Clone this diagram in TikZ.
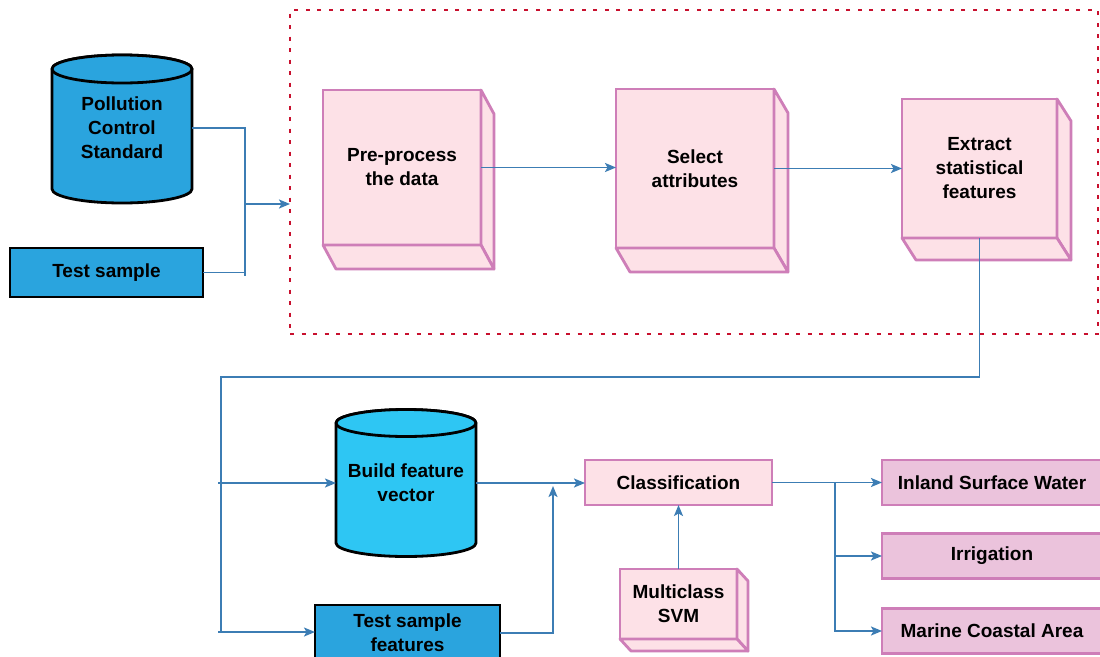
\documentclass[tikz,border=0pt]{standalone}
\usepackage{fontspec}
\setmainfont{Liberation Sans}
\usetikzlibrary{arrows.meta}
\definecolor{blueA}{HTML}{2AA4DE}
\definecolor{cyanA}{HTML}{2EC6F3}
\definecolor{pinkF}{HTML}{FDE1E7}
\definecolor{pinkB}{HTML}{CE7EB8}
\definecolor{outF}{HTML}{EBC3DC}
\definecolor{lineC}{HTML}{3C7DB4}
\definecolor{redD}{HTML}{C8102E}
\tikzset{
  conn/.style={draw=lineC, line width=1.7pt},
  arr/.style={conn, -{Stealth[length=11pt,width=9pt,inset=2.5pt]}},
  txt/.style={font=\fontsize{19}{24}\selectfont\bfseries, align=center, text=black},
  bluebox/.style={txt, rectangle, draw=black, line width=2.8pt, fill=blueA, inner sep=0pt, outer sep=0pt},
  pinkbox/.style={txt, rectangle, draw=pinkB, line width=2.8pt, fill=pinkF, inner sep=0pt, outer sep=0pt},
  face/.style={draw=pinkB, line width=2.8pt, fill=pinkF, line join=round},
  outbox/.style={pinkbox, fill=outF},
  hold/.style={txt, inner sep=0pt, outer sep=0pt, minimum width=140pt},
  cyl/.style={draw=black, line width=2.8pt, line join=round},
  grpbox/.style={draw=redD, line width=2.5pt, dash pattern=on 4pt off 7.5pt, inner sep=0pt, outer sep=0pt}
}
\begin{document}
\begin{tikzpicture}[x=1pt,y=1pt]
\useasboundingbox (0,0) rectangle (1100,-656);
\clip (0,0) rectangle (1100,-656);
\fill[white] (0,0) rectangle (1100,-656);

% dotted group
\node[grpbox, minimum width=808pt, minimum height=324pt] (grp) at (694,-172) {};

% cylinder 1
\filldraw[cyl, fill=blueA] (52,-69) -- (52,-189) arc[start angle=180, end angle=360, x radius=70pt, y radius=14pt] -- (192,-69) arc[start angle=0, end angle=180, x radius=70pt, y radius=14pt] -- cycle;
\filldraw[cyl, fill=blueA] (122,-69) ellipse[x radius=70pt, y radius=14pt];
\node[hold, minimum height=110pt] (pcs) at (122,-128) {Pollution\\Control\\Standard};

% test sample
\node[bluebox, minimum width=193pt, minimum height=49pt] (ts) at (106.5,-272.5) {Test sample};

% 3D boxes
\node[pinkbox, minimum width=158pt, minimum height=155pt] (pre) at (402,-167.5) {Pre-process\\the data};
\filldraw[face] (pre.north east) -- ++(13,-24) -- ([shift={(13,-24)}]pre.south east) -- (pre.south east) -- cycle;
\filldraw[face] (pre.south west) -- (pre.south east) -- ([shift={(13,-24)}]pre.south east) -- ([shift={(13,-24)}]pre.south west) -- cycle;

\node[pinkbox, minimum width=158pt, minimum height=159pt] (sel) at (695,-168.5) {Select\\attributes};
\filldraw[face] (sel.north east) -- ++(14,-24) -- ([shift={(14,-24)}]sel.south east) -- (sel.south east) -- cycle;
\filldraw[face] (sel.south west) -- (sel.south east) -- ([shift={(14,-24)}]sel.south east) -- ([shift={(14,-24)}]sel.south west) -- cycle;

\node[pinkbox, minimum width=155pt, minimum height=139pt] (ext) at (979.5,-168.5) {Extract\\statistical\\features};
\filldraw[face] (ext.north east) -- ++(14,-22) -- ([shift={(14,-22)}]ext.south east) -- (ext.south east) -- cycle;
\filldraw[face] (ext.south west) -- (ext.south east) -- ([shift={(14,-22)}]ext.south east) -- ([shift={(14,-22)}]ext.south west) -- cycle;

% cylinder 2
\filldraw[cyl, fill=cyanA] (336,-423) -- (336,-543) arc[start angle=180, end angle=360, x radius=70pt, y radius=13.5pt] -- (476,-423) arc[start angle=0, end angle=180, x radius=70pt, y radius=13.5pt] -- cycle;
\filldraw[cyl, fill=cyanA] (406,-423) ellipse[x radius=70pt, y radius=13.5pt];
\node[hold, minimum height=110pt] (bfv) at (406,-483) {Build feature\\vector};

% test sample features
\node[bluebox, minimum width=185pt, minimum height=56pt] (tsf) at (407.5,-633) {Test sample\\features};

% classification
\node[pinkbox, minimum width=187pt, minimum height=45pt] (cls) at (678.5,-482.5) {Classification};

% SVM
\node[pinkbox, minimum width=117pt, minimum height=70pt] (svm) at (678.5,-604) {Multiclass\\SVM};
\filldraw[face] (svm.north east) -- ++(11,-12) -- ([shift={(11,-12)}]svm.south east) -- (svm.south east) -- cycle;
\filldraw[face] (svm.south west) -- (svm.south east) -- ([shift={(11,-12)}]svm.south east) -- ([shift={(11,-12)}]svm.south west) -- cycle;

% outputs
\node[outbox, minimum width=220pt, minimum height=45pt] (out1) at (992,-482.5) {Inland Surface Water};
\node[outbox, minimum width=220pt, minimum height=45pt] (out2) at (992,-556) {Irrigation};
\node[outbox, minimum width=220pt, minimum height=45pt] (out3) at (992,-631) {Marine Coastal Area};

% connectors top
\coordinate (j1) at (245,-276);
\coordinate (jin) at (245,-204);
\draw[conn] (pcs.east) -| (j1);
\draw[conn] (ts.east) -- (ts.east -| j1);
\draw[arr] (jin) -- (jin -| grp.west);
\draw[arr] (pre.east) -- (pre.east -| sel.west);
\draw[arr] (sel.east) -- (sel.east -| ext.west);

% bus
\coordinate (busTop) at (221,-377);
\coordinate (busBot) at (221,-632);
\draw[conn] (ext.south) |- (busTop) -- (busBot);
\coordinate (b1) at (218,-483);
\coordinate (b2) at (218,-632);
\draw[arr] (b1) -- (b1 -| bfv.west);
\draw[arr] (b2) -- (b2 -| tsf.west);

% to classification
\coordinate (m1) at (553,-486);
\draw[arr] (tsf.east) -| (m1);
\draw[arr] (bfv.east) -- (bfv.east -| cls.west);
\draw[arr] (svm.north) -- (cls.south);

% outputs
\coordinate (j2) at (835,-482.5);
\draw[arr] (cls.east) -- (out1.west);
\draw[arr] (j2) |- (out2.west);
\draw[arr] (j2) |- (out3.west);
\end{tikzpicture}
\end{document}
